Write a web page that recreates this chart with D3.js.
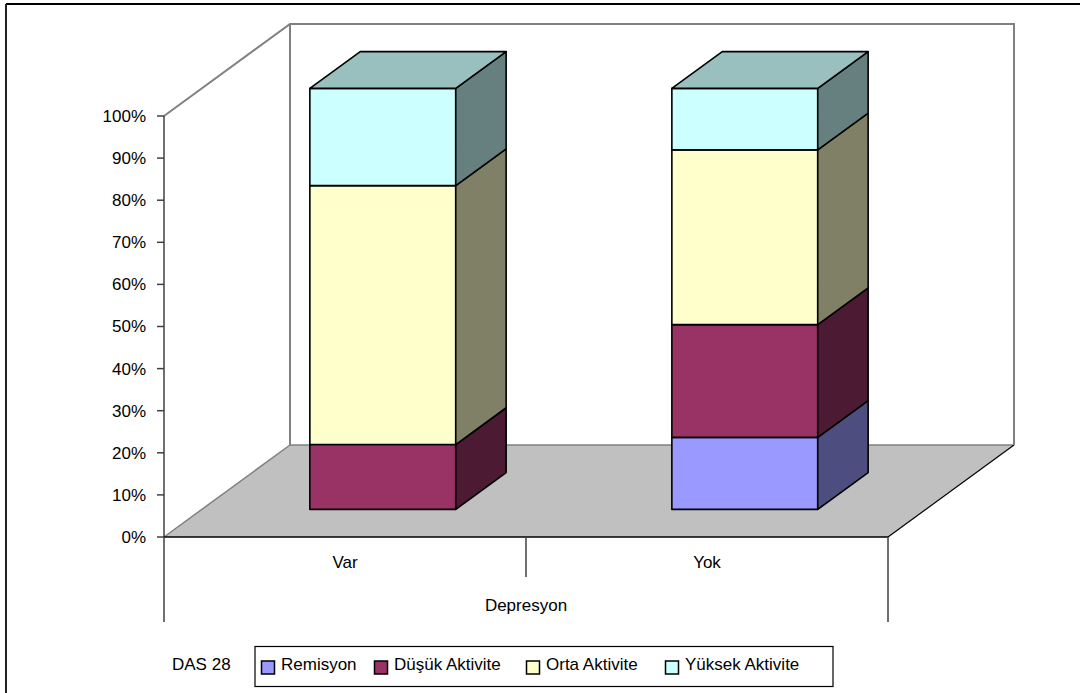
<!DOCTYPE html>
<html>
<head>
<meta charset="utf-8">
<script src="https://cdn.jsdelivr.net/npm/d3@7"></script>
<style>
  html, body { margin: 0; padding: 0; background: #fff; }
  svg { display: block; font-family: "Liberation Sans", Arial, sans-serif; }
</style>
</head>
<body>
<svg id="chart" width="1080" height="693"></svg>
<script>
// DAS 28 activity distribution by depression status (percent of group)
const categories = ["Var", "Yok"];
const seriesNames = ["Remisyon", "Düşük Aktivite", "Orta Aktivite", "Yüksek Aktivite"];
const remisyon = [0, 17.1];
const dusuk = [15.4, 26.8];
const orta = [61.5, 41.5];
const yuksek = [23.1, 14.6];
const yTicks = [0, 10, 20, 30, 40, 50, 60, 70, 80, 90, 100];
const axisTitle = "Depresyon";
const legendTitle = "DAS 28";

const seriesValues = [remisyon, dusuk, orta, yuksek];
const frontColors = ["#9999FF", "#993366", "#FFFFCC", "#CCFFFF"];

const svg = d3.select("#chart");

// Plot geometry: front plane and 3D depth offset of the back wall
const plotLeft = 164, plotRight = 888;
const depthX = 126, depthY = -92;
const zFront = 0.3, zBack = 0.7;   // bar depth inside the floor

const y = d3.scaleLinear().domain([0, 100]).range([537, 116]);
const xCat = d3.scaleBand().domain(categories).range([plotLeft, plotRight]);
const xBar = d3.scaleBand().domain(categories).range([plotLeft, plotRight])
  .paddingInner(0.597).paddingOuter(0.2985);

const P = (x, v, z) => [x + z * depthX, y(v) + z * depthY];
const poly = pts => pts.map(p => p.join(",")).join(" ");

// Chart frame
svg.append("line").attr("x1", 6).attr("y1", 4).attr("x2", 1080).attr("y2", 4)
  .attr("stroke", "#000").attr("stroke-width", 2);
svg.append("line").attr("x1", 6).attr("y1", 4).attr("x2", 6).attr("y2", 693)
  .attr("stroke", "#222").attr("stroke-width", 2);

const wallStroke = "#808080";

// Floor
svg.append("polygon")
  .attr("points", poly([P(plotLeft, 0, 0), P(plotLeft, 0, 1), P(plotRight, 0, 1), P(plotRight, 0, 0)]))
  .attr("fill", "#C0C0C0").attr("stroke", "none");
svg.append("line")
  .attr("x1", P(plotLeft, 0, 1)[0]).attr("y1", P(plotLeft, 0, 1)[1])
  .attr("x2", P(plotRight, 0, 1)[0]).attr("y2", P(plotRight, 0, 1)[1])
  .attr("stroke", wallStroke).attr("stroke-width", 1.5);
svg.append("line")
  .attr("x1", P(plotLeft, 0, 0)[0]).attr("y1", P(plotLeft, 0, 0)[1])
  .attr("x2", P(plotLeft, 0, 1)[0]).attr("y2", P(plotLeft, 0, 1)[1])
  .attr("stroke", wallStroke).attr("stroke-width", 1.5);
svg.append("line")
  .attr("x1", P(plotRight, 0, 0)[0]).attr("y1", P(plotRight, 0, 0)[1])
  .attr("x2", P(plotRight, 0, 1)[0]).attr("y2", P(plotRight, 0, 1)[1])
  .attr("stroke", "#000").attr("stroke-width", 1.2);

// Walls: left top edge, back wall outline
svg.append("polyline")
  .attr("points", poly([P(plotLeft, 100, 0), P(plotLeft, 100, 1), P(plotRight, 100, 1), P(plotRight, 0, 1)]))
  .attr("fill", "none").attr("stroke", wallStroke).attr("stroke-width", 2);
svg.append("line")
  .attr("x1", P(plotLeft, 100, 1)[0]).attr("y1", P(plotLeft, 100, 1)[1])
  .attr("x2", P(plotLeft, 0, 1)[0]).attr("y2", P(plotLeft, 0, 1)[1])
  .attr("stroke", wallStroke).attr("stroke-width", 2);

// Value axis
svg.append("line").attr("x1", plotLeft).attr("x2", plotLeft)
  .attr("y1", y(100)).attr("y2", y(0)).attr("stroke", "#404040").attr("stroke-width", 1.5);
const ticks = svg.append("g");
ticks.selectAll("line").data(yTicks).join("line")
  .attr("x1", plotLeft - 7).attr("x2", plotLeft)
  .attr("y1", d => y(d)).attr("y2", d => y(d))
  .attr("stroke", "#404040").attr("stroke-width", 1.5);
ticks.selectAll("text").data(yTicks).join("text")
  .attr("x", plotLeft - 18).attr("y", d => y(d)).attr("dy", "0.35em")
  .attr("text-anchor", "end").attr("font-size", 17).attr("fill", "#000")
  .text(d => d + "%");

// Category axis (front edge and multi-level label box)
svg.append("line").attr("x1", plotLeft).attr("x2", plotRight)
  .attr("y1", y(0)).attr("y2", y(0)).attr("stroke", "#000").attr("stroke-width", 1.5);
svg.append("line").attr("x1", plotLeft).attr("x2", plotLeft)
  .attr("y1", y(0)).attr("y2", y(0) + 85).attr("stroke", "#404040").attr("stroke-width", 1.5);
svg.append("line").attr("x1", plotRight).attr("x2", plotRight)
  .attr("y1", y(0)).attr("y2", y(0) + 85).attr("stroke", "#404040").attr("stroke-width", 1.5);
svg.append("line").attr("x1", xCat("Yok")).attr("x2", xCat("Yok"))
  .attr("y1", y(0)).attr("y2", y(0) + 40).attr("stroke", "#404040").attr("stroke-width", 1.5);
svg.append("g").selectAll("text").data(categories).join("text")
  .attr("x", d => xCat(d) + xCat.bandwidth() / 2).attr("y", y(0) + 31)
  .attr("text-anchor", "middle").attr("font-size", 17).text(d => d);
svg.append("text").attr("x", (plotLeft + plotRight) / 2).attr("y", y(0) + 74)
  .attr("text-anchor", "middle").attr("font-size", 17).text(axisTitle);

// Stacked 3D columns
const shade = (c, k) => { const r = d3.rgb(c); return d3.rgb(r.r * k, r.g * k, r.b * k).formatHex(); };
const bars = svg.append("g");
categories.forEach((cat, ci) => {
  const x0 = xBar(cat), x1 = x0 + xBar.bandwidth();
  let base = 0;
  const segs = [];
  seriesValues.forEach((vals, si) => {
    const v = vals[ci];
    if (v > 0) segs.push({ si, lo: base, hi: base + v });
    base += v;
  });
  segs.forEach((s, k) => {
    const g = bars.append("g");
    const col = frontColors[s.si];
    g.append("polygon")
      .attr("points", poly([P(x0, s.lo, zFront), P(x1, s.lo, zFront), P(x1, s.hi, zFront), P(x0, s.hi, zFront)]))
      .attr("fill", col).attr("stroke", "#000").attr("stroke-width", 1.6).attr("stroke-linejoin", "round");
    g.append("polygon")
      .attr("points", poly([P(x1, s.lo, zFront), P(x1, s.lo, zBack), P(x1, s.hi, zBack), P(x1, s.hi, zFront)]))
      .attr("fill", shade(col, 0.5)).attr("stroke", "#000").attr("stroke-width", 1.6).attr("stroke-linejoin", "round");
    if (k === segs.length - 1) {
      g.append("polygon")
        .attr("points", poly([P(x0, s.hi, zFront), P(x1, s.hi, zFront), P(x1, s.hi, zBack), P(x0, s.hi, zBack)]))
        .attr("fill", shade(col, 0.75)).attr("stroke", "#000").attr("stroke-width", 1.6).attr("stroke-linejoin", "round");
    }
  });
});

// Legend
svg.append("text").attr("x", 172).attr("y", 670).attr("font-size", 17).text(legendTitle);
svg.append("rect").attr("x", 255).attr("y", 646.5).attr("width", 578).attr("height", 40)
  .attr("fill", "#fff").attr("stroke", "#000").attr("stroke-width", 1.2);
const legendX = [261, 374, 526, 665];
const lg = svg.append("g").selectAll("g").data(seriesNames).join("g")
  .attr("transform", (d, i) => `translate(${legendX[i]},0)`);
lg.append("rect").attr("x", 0.5).attr("y", 661).attr("width", 13).attr("height", 13)
  .attr("fill", (d, i) => frontColors[i]).attr("stroke", "#000").attr("stroke-width", 1.5);
lg.append("text").attr("x", 20).attr("y", 669.5).attr("font-size", 17).text(d => d);
</script>
</body>
</html>
